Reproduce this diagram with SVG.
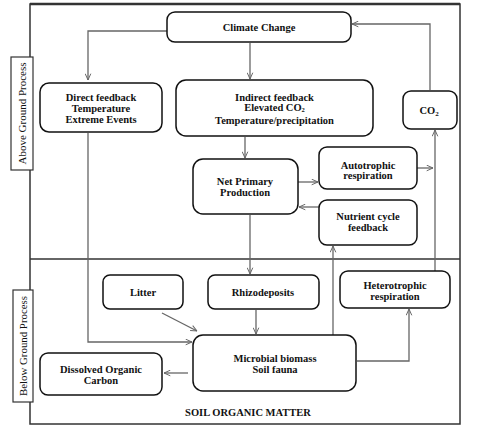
<svg xmlns="http://www.w3.org/2000/svg" width="477" height="430" viewBox="0 0 477 430">
<defs>
<style>
.bx{fill:#fff;stroke:#111;stroke-width:1.5}
.t{font-family:"Liberation Serif","Times New Roman",serif;font-weight:bold;font-size:10.5px;fill:#111;text-anchor:middle}
.side{font-family:"Liberation Serif","Times New Roman",serif;font-size:11px;fill:#111;text-anchor:middle}
.c{fill:none;stroke:#666;stroke-width:1.3}
</style>
<marker id="ah" viewBox="0 0 10 10" refX="10" refY="5" markerWidth="7" markerHeight="7" orient="auto" markerUnits="userSpaceOnUse">
<path d="M1,1 L10,5 L1,9" fill="none" stroke="#666" stroke-width="1.4"/>
</marker>
</defs>
<rect width="477" height="430" fill="#fff"/>
<g id="frame">
<rect x="30" y="4" width="430" height="420" fill="none" stroke="#333" stroke-width="1.5"/>
<line x1="30" y1="4" x2="460" y2="4" stroke="#333" stroke-width="2.5"/>
<line x1="30" y1="259" x2="460" y2="259" stroke="#333" stroke-width="1.5"/>
</g>
<g id="above-label">
<rect x="11" y="57" width="22" height="113" fill="#fff" stroke="#333" stroke-width="1.2"/>
<text class="side" transform="translate(26,113.5) rotate(-90)" textLength="102" lengthAdjust="spacingAndGlyphs">Above Ground Process</text>
</g>
<g id="below-label">
<rect x="13" y="290" width="20" height="112" fill="#fff" stroke="#333" stroke-width="1.2"/>
<text class="side" transform="translate(27,346) rotate(-90)" textLength="100" lengthAdjust="spacingAndGlyphs">Below Ground Process</text>
</g>
<g id="connectors">
<path class="c" d="M167,31 H88 V80" marker-end="url(#ah)"/>
<path class="c" d="M250,43 V79" marker-end="url(#ah)"/>
<path class="c" d="M245,137 V158" marker-end="url(#ah)"/>
<path class="c" d="M298,182 H318" marker-end="url(#ah)"/>
<path class="c" d="M417,168 H433" marker-end="url(#ah)"/>
<path class="c" d="M319,207 H299" marker-end="url(#ah)"/>
<path class="c" d="M430,90 V24 H352" marker-end="url(#ah)"/>
<path class="c" d="M435,271 V130" marker-end="url(#ah)"/>
<path class="c" d="M88,133 V342 H192" marker-end="url(#ah)"/>
<path class="c" d="M162,313 L197,331" marker-end="url(#ah)"/>
<path class="c" d="M250,215 V274" marker-end="url(#ah)"/>
<path class="c" d="M256,310 V334" marker-end="url(#ah)"/>
<path class="c" d="M333,335 V246" marker-end="url(#ah)"/>
<path class="c" d="M357,361 H409 V309" marker-end="url(#ah)"/>
<path class="c" d="M188,373 H164" marker-end="url(#ah)"/>
</g>
<g id="climate-change">
<rect class="bx" x="167" y="12" width="184" height="30" rx="8"/>
<text class="t" x="259" y="31">Climate Change</text>
</g>
<g id="direct-feedback">
<rect class="bx" x="40" y="83" width="122" height="49" rx="9"/>
<text class="t" x="101" y="101">Direct feedback</text>
<text class="t" x="101" y="112">Temperature</text>
<text class="t" x="101" y="122.5">Extreme Events</text>
</g>
<g id="indirect-feedback">
<rect class="bx" x="176" y="80" width="197" height="56" rx="10"/>
<text class="t" x="274.5" y="100.5">Indirect feedback</text>
<text class="t" x="274.5" y="111">Elevated CO<tspan font-size="6.5" dy="1.2">2</tspan></text>
<text class="t" x="274.5" y="123.5">Temperature/precipitation</text>
</g>
<g id="co2">
<rect class="bx" x="403" y="91" width="54" height="38" rx="8"/>
<text class="t" x="429" y="113.5">CO<tspan font-size="7" dy="2">2</tspan></text>
</g>
<g id="npp">
<rect class="bx" x="193" y="159" width="105" height="55" rx="10"/>
<text class="t" x="245" y="185">Net Primary</text>
<text class="t" x="245" y="195.5">Production</text>
</g>
<g id="autotrophic">
<rect class="bx" x="319" y="147" width="98" height="42" rx="8"/>
<text class="t" x="368" y="168.5">Autotrophic</text>
<text class="t" x="368" y="179">respiration</text>
</g>
<g id="nutrient-cycle">
<rect class="bx" x="319" y="200" width="98" height="45" rx="8"/>
<text class="t" x="368" y="220">Nutrient cycle</text>
<text class="t" x="368" y="231">feedback</text>
</g>
<g id="litter">
<rect class="bx" x="103" y="275" width="80" height="34" rx="7"/>
<text class="t" x="143" y="296">Litter</text>
</g>
<g id="rhizodeposits">
<rect class="bx" x="208" y="275" width="111" height="34" rx="7"/>
<text class="t" x="263" y="296">Rhizodeposits</text>
</g>
<g id="heterotrophic">
<rect class="bx" x="340" y="271" width="110" height="37" rx="8"/>
<text class="t" x="395" y="289">Heterotrophic</text>
<text class="t" x="395" y="299.5">respiration</text>
</g>
<g id="microbial">
<rect class="bx" x="193" y="335" width="163" height="56" rx="10"/>
<text class="t" x="275" y="362">Microbial biomass</text>
<text class="t" x="275" y="373">Soil fauna</text>
</g>
<g id="doc">
<rect class="bx" x="40" y="353" width="122" height="42" rx="8"/>
<text class="t" x="101" y="373">Dissolved Organic</text>
<text class="t" x="101" y="383.5">Carbon</text>
</g>
<g id="som">
<text class="t" x="248" y="415.5">SOIL ORGANIC MATTER</text>
</g>
</svg>
